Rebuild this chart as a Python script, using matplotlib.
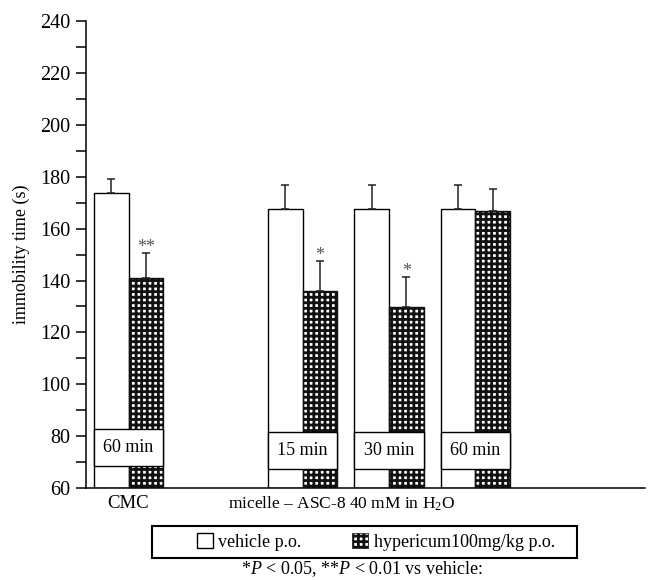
import matplotlib
matplotlib.use("Agg")
import matplotlib.pyplot as plt
from matplotlib.patches import Patch, Rectangle
from matplotlib.ticker import MultipleLocator

plt.rcParams['font.family'] = ['Liberation Serif', 'DejaVu Serif']
plt.rcParams['mathtext.fontset'] = 'custom'
plt.rcParams['mathtext.rm'] = 'Liberation Serif'
plt.rcParams['mathtext.it'] = 'Liberation Serif:italic'
plt.rcParams['hatch.linewidth'] = 2.0

# data
groups = ["CMC 60 min", "micelle 15 min", "micelle 30 min", "micelle 60 min"]
time_labels = ["60 min", "15 min", "30 min", "60 min"]
vehicle_mean = [173.7, 167.4, 167.4, 167.4]
vehicle_err = [5.4, 9.6, 9.6, 9.6]
hyper_mean = [140.9, 136.0, 129.9, 166.7]
hyper_err = [9.7, 11.6, 11.4, 8.5]
stars = ["**", "*", "*", ""]
box_low = [68.5, 67.3, 67.3, 67.3]
box_high = [82.7, 81.6, 81.6, 81.6]
group_left = [0.23, 5.26, 7.76, 10.26]
xtick_pos = [1.23, 7.39]
xtick_labels = ["CMC", "micelle \u2013 ASC-8 40 mM in H$_2$O"]

fig = plt.figure(figsize=(6.48, 5.80), dpi=100)
ax = fig.add_axes([0.1327, 0.1586, 0.862, 0.805])

w = 1.0
veh_x = [g + 0.5 for g in group_left]
hyp_x = [g + 1.5 for g in group_left]

ax.bar(veh_x, [v - 60 for v in vehicle_mean], bottom=60, width=w,
       facecolor='white', edgecolor='black', linewidth=1.0, zorder=2)
ax.bar(hyp_x, [v - 60 for v in hyper_mean], bottom=60, width=w,
       facecolor='white', edgecolor='#111111', hatch='+++', linewidth=1.0, zorder=2)

ax.errorbar(veh_x, vehicle_mean, yerr=[[0] * 4, vehicle_err], fmt='none',
            ecolor='#222222', elinewidth=1.1, capsize=3, capthick=1.1, zorder=3)
ax.errorbar(hyp_x, hyper_mean, yerr=[[0] * 4, hyper_err], fmt='none',
            ecolor='#222222', elinewidth=1.1, capsize=3, capthick=1.1, zorder=3)

for x, m, e, s in zip(hyp_x, hyper_mean, hyper_err, stars):
    if s:
        ax.text(x, m + e + 2.0, s, ha='center', va='center', fontsize=13, color='#555555')

# time boxes
centers = [g + 1.0 for g in group_left]
ax.bar(centers, [h - l for h, l in zip(box_high, box_low)], bottom=box_low,
       width=2 * w, facecolor='white', edgecolor='black', linewidth=1.0, zorder=4)
for c, l, h, t in zip(centers, box_low, box_high, time_labels):
    ax.text(c, (l + h) / 2, t, ha='center', va='center', fontsize=13, zorder=5)

ax.set_xlim(0, 16.15)
ax.set_ylim(60, 240)
ax.yaxis.set_major_locator(MultipleLocator(20))
ax.yaxis.set_minor_locator(MultipleLocator(10))
ax.tick_params(axis='y', which='both', direction='out', length=7, width=1.1,
               labelsize=14.5, pad=4)
ax.set_xticks(xtick_pos)
ax.set_xticklabels(xtick_labels)
ax.tick_params(axis='x', length=0, pad=5)
xl = ax.get_xticklabels()
xl[0].set_fontsize(13.5)
xl[1].set_fontsize(12.5)
for sp in ['top', 'right']:
    ax.spines[sp].set_visible(False)
for sp in ['left', 'bottom']:
    ax.spines[sp].set_linewidth(1.1)

ax.set_ylabel("immobility time (s)", fontsize=13)
ax.yaxis.set_label_coords(-0.1, 0.5)

handles = [Patch(facecolor='white', edgecolor='black', linewidth=1.0),
           Patch(facecolor='white', edgecolor='#111111', hatch='+++', linewidth=0.5)]
leg = fig.legend(handles, ["vehicle p.o.", "hypericum100mg/kg p.o."],
                 loc='center', bbox_to_anchor=(0.580, 0.0655), ncol=2,
                 fontsize=13, frameon=False,
                 handlelength=0.9, handleheight=0.9, handletextpad=0.3,
                 columnspacing=2.8, borderpad=0.2, borderaxespad=0)
fig.patches.append(Rectangle((152 / 648, 1 - 558 / 580), 425 / 648, 32 / 580,
                             transform=fig.transFigure, facecolor='none',
                             edgecolor='black', linewidth=1.5))

fig.text(0.559, 0.019, r"*$\it{P}$ < 0.05, **$\it{P}$ < 0.01 vs vehicle:",
         ha='center', va='center', fontsize=13)

fig.savefig("out.png", dpi=100)
